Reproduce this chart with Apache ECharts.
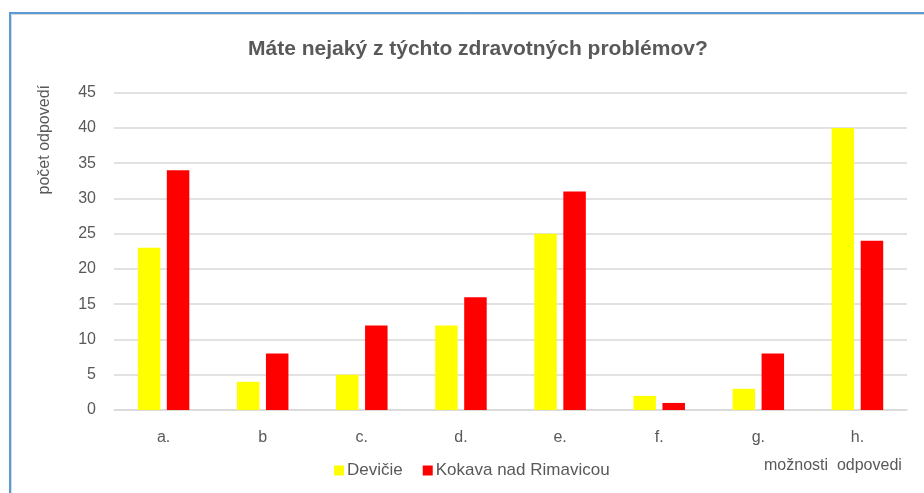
<!DOCTYPE html>
<html>
<head>
<meta charset="utf-8">
<script src="https://cdn.jsdelivr.net/npm/echarts@6/dist/echarts.min.js"></script>
<style>html,body{margin:0;padding:0;background:#fff;}#c{width:924px;height:493px;}</style>
</head>
<body>
<div id="c"></div>
<script>
const categories = ['a.', 'b', 'c.', 'd.', 'e.', 'f.', 'g.', 'h.'];
const devicie = [23, 4, 5, 12, 25, 2, 3, 40];
const kokava = [34, 8, 12, 16, 31, 1, 8, 24];
const yTicks = { min: 0, max: 45, interval: 5 };

const narrow = '"Liberation Sans Narrow", "Arial Narrow", "Liberation Sans", sans-serif';
const chart = echarts.init(document.getElementById('c'));
chart.setOption({
  animation: false,
  title: {
    text: 'Máte nejaký z týchto zdravotných problémov?',
    left: 243, top: 34,
    textStyle: { fontFamily: narrow, fontSize: 21, fontWeight: 'bold', color: '#595959' }
  },
  graphic: [
    { type: 'rect', shape: { x: 10, y: 13, width: 1000, height: 1000 }, style: { fill: 'none', stroke: '#5b9bd5', lineWidth: 2 } },
    { type: 'rect', shape: { x: 11.5, y: 14.5, width: 1000, height: 1000 }, style: { fill: 'none', stroke: '#d9d9d9', lineWidth: 1 } },
    { type: 'text', left: 37, top: 85, rotation: Math.PI / 2, style: { text: 'počet odpovedí', font: '16px ' + narrow, fill: '#595959' } },
    { type: 'text', left: 764, top: 458, style: { text: 'možnosti  odpovedi', font: '16px ' + narrow, fill: '#595959' } }
  ],
  legend: {
    data: ['Devičie', 'Kokava nad Rimavicou'],
    left: 329, top: 457,
    icon: 'rect', itemWidth: 10, itemHeight: 10, itemGap: 20,
    textStyle: { fontFamily: narrow, fontSize: 17, color: '#595959', padding: [0, 0, 0, -2] }
  },
  grid: { left: 114, right: 17, top: 92.7, bottom: 83, containLabel: false },
  xAxis: {
    type: 'category', data: categories,
    axisLine: { lineStyle: { color: '#d9d9d9', width: 1.5 } },
    axisTick: { show: false },
    axisLabel: { fontFamily: narrow, fontSize: 16, color: '#595959', margin: 20 }
  },
  yAxis: {
    type: 'value', min: yTicks.min, max: yTicks.max, interval: yTicks.interval,
    axisLine: { show: false }, axisTick: { show: false },
    splitLine: { lineStyle: { color: '#d9d9d9', width: 1.5 } },
    axisLabel: { fontFamily: '"Liberation Sans", sans-serif', fontSize: 16, color: '#595959', margin: 18 }
  },
  series: [
    { name: 'Devičie', type: 'bar', data: devicie, barWidth: 22.5, barGap: '29%', itemStyle: { color: '#ffff00' } },
    { name: 'Kokava nad Rimavicou', type: 'bar', data: kokava, barWidth: 22.5, itemStyle: { color: '#ff0000' } }
  ]
});
</script>
</body>
</html>
